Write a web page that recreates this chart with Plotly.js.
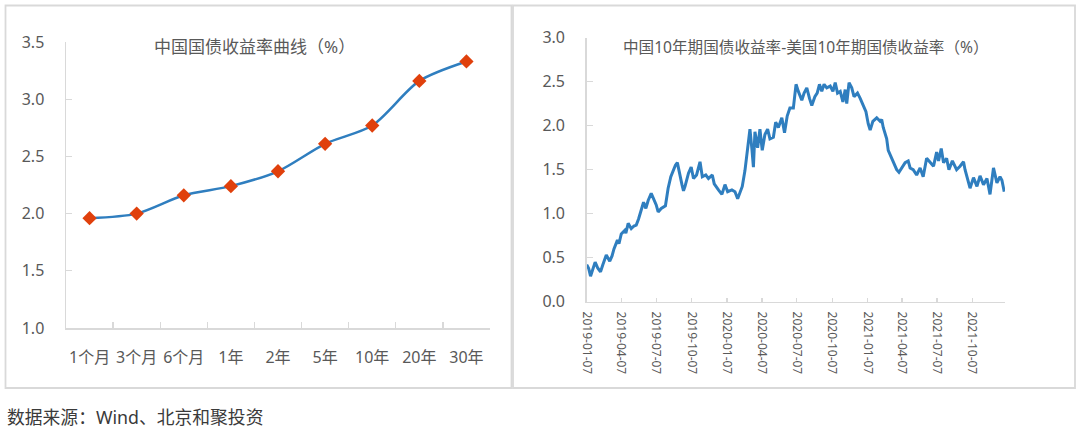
<!DOCTYPE html>
<html><head><meta charset="utf-8">
<script src="https://cdn.plot.ly/plotly-3.0.1.min.js"></script>
<style>html,body{margin:0;padding:0;background:#fff}#chart{width:1080px;height:428px}</style>
</head><body><div id="chart"></div>
<script>
const tenors = ['1个月','3个月','6个月','1年','2年','5年','10年','20年','30年'];
const cnYields = [1.96,2.00,2.16,2.24,2.37,2.61,2.77,3.16,3.33];

const spreadDates = [
'2019-01-07','2019-01-12','2019-01-17','2019-01-23','2019-01-29','2019-02-05','2019-02-12','2019-02-18','2019-02-27','2019-03-08',
'2019-03-14','2019-03-19','2019-03-28','2019-04-01','2019-04-07','2019-04-16','2019-04-19','2019-04-25','2019-05-03','2019-05-10',
'2019-05-16','2019-05-22','2019-05-29','2019-06-04','2019-06-10','2019-06-16','2019-06-24','2019-07-01','2019-07-07','2019-07-12',
'2019-07-20','2019-07-31','2019-08-07','2019-08-14','2019-08-20','2019-08-26','2019-08-31','2019-09-06','2019-09-12','2019-09-16',
'2019-09-20','2019-09-29','2019-10-06','2019-10-12','2019-10-20','2019-10-29','2019-11-04','2019-11-13','2019-11-20','2019-11-30',
'2019-12-05','2019-12-16','2019-12-25','2020-01-02','2020-01-09','2020-01-20','2020-01-28','2020-02-04','2020-02-10','2020-02-16',
'2020-02-23','2020-03-01','2020-03-07','2020-03-12','2020-03-16','2020-03-20','2020-03-27','2020-04-02','2020-04-08','2020-04-15',
'2020-04-22','2020-04-28','2020-05-07','2020-05-13','2020-05-20','2020-05-29','2020-06-05','2020-06-12','2020-06-19','2020-06-28',
'2020-07-05','2020-07-11','2020-07-20','2020-07-26','2020-08-02','2020-08-09','2020-08-15','2020-08-23','2020-08-29','2020-09-04',
'2020-09-10','2020-09-16','2020-09-23','2020-10-02','2020-10-09','2020-10-15','2020-10-21','2020-10-28','2020-11-04','2020-11-10',
'2020-11-14','2020-11-20','2020-11-27','2020-12-03','2020-12-12','2020-12-19','2020-12-27','2021-01-03','2021-01-09','2021-01-14',
'2021-01-21','2021-01-31','2021-02-09','2021-02-13','2021-02-17','2021-02-26','2021-03-02','2021-03-11','2021-03-15','2021-03-24',
'2021-03-30','2021-04-06','2021-04-15','2021-04-23','2021-04-28','2021-05-06','2021-05-15','2021-05-24','2021-06-01','2021-06-10',
'2021-06-19','2021-06-28','2021-07-06','2021-07-11','2021-07-18','2021-07-24','2021-08-01','2021-08-07','2021-08-16','2021-08-27',
'2021-09-05','2021-09-14','2021-09-18','2021-09-27','2021-10-01','2021-10-10','2021-10-19','2021-10-27','2021-11-05','2021-11-14',
'2021-11-22','2021-12-01','2021-12-10','2021-12-18','2021-12-23','2021-12-29'
];
const spreadValues = [
0.42,0.38,0.29,0.37,0.45,0.38,0.34,0.42,0.53,0.46,
0.52,0.60,0.70,0.66,0.77,0.81,0.78,0.89,0.83,0.86,
0.87,0.94,1.06,1.13,1.06,1.15,1.23,1.17,1.10,1.02,
1.06,1.09,1.29,1.42,1.49,1.55,1.58,1.44,1.33,1.26,
1.31,1.46,1.53,1.40,1.44,1.59,1.42,1.44,1.40,1.44,
1.34,1.27,1.22,1.33,1.25,1.27,1.25,1.17,1.25,1.31,
1.49,1.72,1.96,1.74,1.53,1.93,1.75,1.96,1.72,1.90,
1.96,1.85,1.87,2.04,1.98,2.09,1.92,2.11,2.20,2.20,
2.47,2.39,2.29,2.37,2.43,2.31,2.23,2.33,2.37,2.47,
2.39,2.47,2.43,2.45,2.39,2.49,2.37,2.39,2.27,2.41,
2.25,2.49,2.43,2.33,2.37,2.31,2.23,2.16,2.02,1.95,
2.05,2.09,2.05,2.07,1.98,1.85,1.72,1.63,1.58,1.50,
1.47,1.52,1.58,1.60,1.52,1.50,1.44,1.52,1.42,1.63,
1.58,1.54,1.70,1.60,1.74,1.58,1.63,1.50,1.60,1.50,
1.54,1.59,1.50,1.33,1.29,1.41,1.31,1.43,1.33,1.40,
1.22,1.52,1.35,1.42,1.38,1.25
];
const dateTicks = ['2019-01-07','2019-04-07','2019-07-07','2019-10-07','2020-01-07','2020-04-07',
'2020-07-07','2020-10-07','2021-01-07','2021-04-07','2021-07-07','2021-10-07'];

const leftTitle = '中国国债收益率曲线（%）';
const rightTitle = '中国10年期国债收益率-美国10年期国债收益率（%）';
const sourceText = '数据来源：Wind、北京和聚投资';

const W = 1080, H = 428;
const px = v => v / W;
const py = v => 1 - v / H;
const FONT = 'Noto Sans, Noto Sans CJK SC, sans-serif';
const GRAY = '#595959';
const AX = '#d9d9d9';
const BLUE = '#2f7ebf';

const traces = [
  {x: tenors, y: cnYields, type: 'scatter', mode: 'lines+markers', xaxis: 'x', yaxis: 'y',
   line: {color: BLUE, width: 2.5, shape: 'spline', smoothing: 0.8},
   marker: {symbol: 'diamond', size: 11, color: '#e0400c'}, hoverinfo: 'skip'},
  {x: spreadDates, y: spreadValues, type: 'scatter', mode: 'lines', xaxis: 'x2', yaxis: 'y2',
   line: {color: BLUE, width: 3}, hoverinfo: 'skip'}
];

const layout = {
  width: W, height: H, margin: {l: 0, r: 0, t: 0, b: 0},
  paper_bgcolor: '#fff', plot_bgcolor: 'rgba(0,0,0,0)', showlegend: false,
  font: {family: FONT, color: GRAY, size: 16},
  xaxis: {domain: [px(66), px(490)], anchor: 'y', type: 'category', range: [-0.5, 8.5],
    showline: true, linecolor: AX, linewidth: 1.5, showgrid: false, zeroline: false,
    ticks: 'inside', tickson: 'boundaries', ticklen: 6, tickcolor: AX, tickwidth: 1.3,
    tickangle: 0, ticklabelstandoff: 14, tickfont: {size: 16, color: GRAY}},
  yaxis: {domain: [py(328), py(42)], anchor: 'x', range: [1, 3.5], dtick: 0.5, tick0: 1,
    tickformat: '.1f', showline: true, linecolor: AX, linewidth: 1.5, showgrid: false, zeroline: false,
    ticks: 'inside', ticklen: 6, tickcolor: AX, tickwidth: 1.3,
    ticklabelstandoff: 17, tickfont: {size: 16, color: GRAY}},
  xaxis2: {domain: [px(586.7), px(1005)], anchor: 'y2', type: 'date',
    range: ['2019-01-07', '2021-12-31'],
    tickvals: dateTicks, ticktext: dateTicks, tickangle: 90,
    showline: true, linecolor: AX, linewidth: 1.5, showgrid: false, zeroline: false,
    ticks: 'inside', ticklen: 4, tickcolor: AX, tickwidth: 1.3,
    ticklabelstandoff: 6, tickfont: {size: 12, color: GRAY}},
  yaxis2: {domain: [py(301.7), py(37.7)], anchor: 'x2', range: [0, 3], dtick: 0.5, tick0: 0,
    tickformat: '.1f', showline: true, linecolor: AX, linewidth: 1.5, showgrid: false, zeroline: false,
    ticks: 'inside', ticklen: 6, tickcolor: AX, tickwidth: 1.3,
    ticklabelstandoff: 17, tickfont: {size: 16, color: GRAY}},
  shapes: [
    {type: 'rect', xref: 'paper', yref: 'paper', x0: px(5.5), x1: px(511.5), y0: py(388), y1: py(5.5),
     line: {color: AX, width: 1.8}},
    {type: 'rect', xref: 'paper', yref: 'paper', x0: px(513), x1: px(1075), y0: py(388), y1: py(5.5),
     line: {color: AX, width: 1.8}}
  ],
  annotations: [
    {text: leftTitle, xref: 'paper', yref: 'paper', x: px(254), y: py(47), xanchor: 'center', yanchor: 'middle',
     showarrow: false, font: {size: 17, color: GRAY, family: FONT}},
    {text: rightTitle, xref: 'paper', yref: 'paper', x: px(806), y: py(47), xanchor: 'center', yanchor: 'middle',
     showarrow: false, font: {size: 15.6, color: GRAY, family: FONT}},
    {text: sourceText, xref: 'paper', yref: 'paper', x: px(5), y: py(417), xanchor: 'left', yanchor: 'middle',
     showarrow: false, font: {size: 17.8, color: '#3a3a3a', family: FONT}}
  ]
};

Plotly.newPlot('chart', traces, layout, {staticPlot: true, displayModeBar: false});
</script>
</body></html>
